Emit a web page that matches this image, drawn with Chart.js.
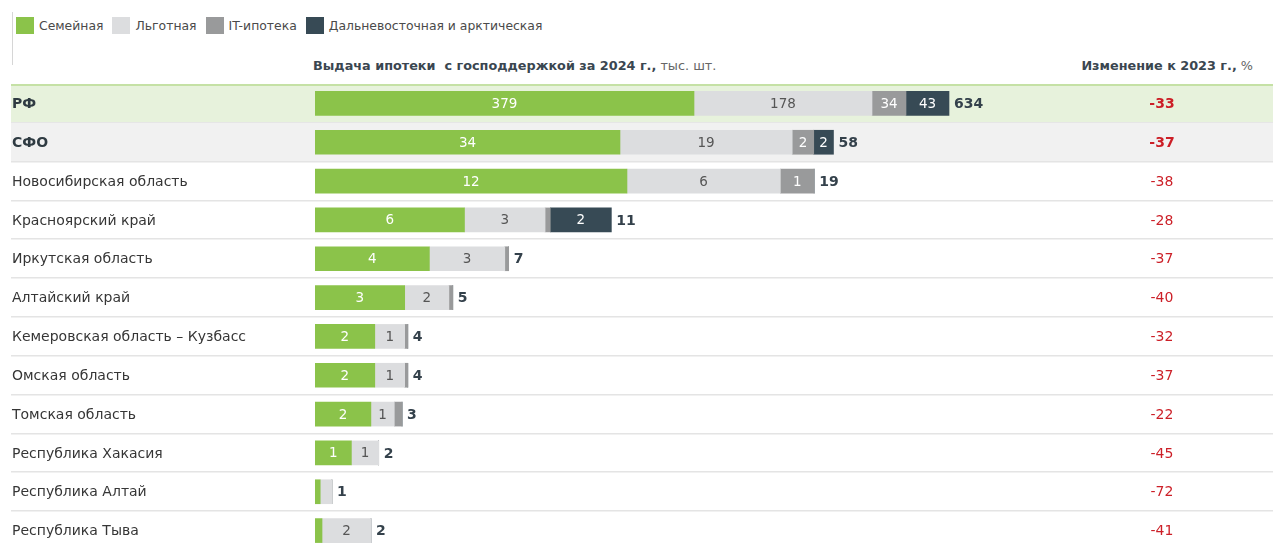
<!DOCTYPE html>
<html lang="ru">
<head>
<meta charset="utf-8">
<script src="https://cdn.jsdelivr.net/npm/chart.js@4.4.1/dist/chart.umd.min.js"></script>
<style>
  html,body{margin:0;padding:0;background:#fff;overflow:hidden;width:1273px;height:543px;}
  body{font-family:"DejaVu Sans",Verdana,sans-serif;position:relative;}
  #legend{position:absolute;left:12px;top:12px;height:53px;border-left:1px solid #d6d6d6;}
  #legend span.it{display:inline-flex;align-items:center;font-size:12.4px;color:#4a4a4a;margin-right:6px;height:26px;}
  #legend i{display:inline-block;width:18px;height:17px;margin:0 5px 0 3px;}
  .hdr{position:absolute;top:58px;font-size:12.8px;color:#3a4650;font-weight:bold;white-space:nowrap;}
  .hdr span{font-weight:normal;color:#666;}
  #wrap{position:absolute;left:0;top:84px;width:1273px;height:466px;}
</style>
</head>
<body>
<div id="legend"></div>
<div class="hdr" style="left:313px">Выдача ипотеки&nbsp; с господдержкой за 2024 г.,<span> тыс. шт.</span></div>
<div class="hdr" style="right:20px">Изменение к 2023 г.,<span> %</span></div>
<div id="wrap"><canvas id="chart"></canvas></div>
<script>
const regions = ["РФ","СФО","Новосибирская область","Красноярский край","Иркутская область","Алтайский край","Кемеровская область – Кузбасс","Омская область","Томская область","Республика Хакасия","Республика Алтай","Республика Тыва"];
// which scale each row belongs to (РФ, СФО and regions are drawn at different scales)
const rowGroup = ["rf","sfo","reg","reg","reg","reg","reg","reg","reg","reg","reg","reg"];
const seriesNames = ["Семейная","Льготная","IT-ипотека","Дальневосточная и арктическая"];
const family       = [379, 34.0, 12.0, 5.75, 4.4, 3.45, 2.3, 2.3, 2.15, 1.4, 0.2, 0.27];
const preferential = [178, 19.2, 5.9, 3.1, 2.9, 1.7, 1.15, 1.15, 0.9, 1.05, 0.45, 1.88];
const itMortgage   = [34, 2.4, 1.3, 0.2, 0.15, 0.15, 0.12, 0.12, 0.3, 0, 0, 0];
const farEast      = [43, 2.2, 0, 2.35, 0, 0, 0, 0, 0, 0, 0, 0];
const change2023   = [-33, -37, -38, -28, -37, -40, -32, -37, -22, -45, -72, -41];

const colors = ["#8bc34a","#dcdddf","#999a9b","#374a55"];
const labelColors = ["#ffffff","#555555","#ffffff","#ffffff"];
const allSeries = [family, preferential, itMortgage, farEast];
const groups = ["rf","sfo","reg"];
const FONT = '"DejaVu Sans", Verdana, sans-serif';

// legend
const lg = document.getElementById("legend");
seriesNames.forEach((n,i)=>{
  const s = document.createElement("span");
  s.className = "it";
  s.innerHTML = `<i style="background:${colors[i]}"></i>${n}`;
  lg.appendChild(s);
});

const datasets = [];
groups.forEach(g=>{
  allSeries.forEach((vals,si)=>{
    datasets.push({
      label: seriesNames[si],
      data: vals.map((v,i)=> rowGroup[i]===g ? v : null),
      backgroundColor: colors[si],
      xAxisID: "x_"+g,
      stack: "all",
      barThickness: 24,
      borderWidth: 0,
      _series: si,
      _group: g
    });
  });
});

const rowPlugin = {
  id: "rows",
  beforeDraw(chart){
    const ctx = chart.ctx, y = chart.scales.y;
    const W = chart.width;
    const step = y.height / regions.length;
    ctx.save();
    regions.forEach((r,i)=>{
      const top = y.top + i*step;
      if(i===0){ ctx.fillStyle="#e7f2dc"; ctx.fillRect(11, top, W-11, step); }
      if(i===1){ ctx.fillStyle="#f1f1f1"; ctx.fillRect(11, top, W-11, step); }
      ctx.fillStyle="#e4e4e4";
      ctx.fillRect(11, Math.round(top+step)-1, W-11, 1.5);
    });
    ctx.fillStyle="#c5e1a5";
    ctx.fillRect(11, y.top, W-11, 2);
    regions.forEach((r,i)=>{
      const cy = y.getPixelForValue(i);
      const bold = rowGroup[i] !== "reg";
      ctx.textBaseline="middle";
      ctx.textAlign="left";
      ctx.font = (bold?"bold 14px ":"14px ")+FONT;
      ctx.fillStyle = bold ? "#2f3b42" : "#363636";
      ctx.fillText(r, 12, cy+1);
      ctx.textAlign="center";
      ctx.font = (bold?"bold 14px ":"14px ")+FONT;
      ctx.fillStyle = "#cc1f27";
      ctx.fillText(String(change2023[i]), 1162, cy+1);
    });
    ctx.restore();
  },
  afterDatasetsDraw(chart){
    const ctx = chart.ctx;
    ctx.save();
    ctx.textBaseline="middle";
    const ends = regions.map(()=>0);
    chart.data.datasets.forEach((ds,di)=>{
      const meta = chart.getDatasetMeta(di);
      meta.data.forEach((el,i)=>{
        const v = ds.data[i];
        if(v===null || v===undefined) return;
        const p = el.getProps(["x","y","base"], true);
        const x0 = Math.min(p.x,p.base), x1 = Math.max(p.x,p.base);
        if(v>0) ends[i] = Math.max(ends[i], x1);
        if(Math.round(v)>=1 && x1-x0>=18){
          ctx.font = "13.5px "+FONT;
          ctx.textAlign="center";
          ctx.fillStyle = labelColors[ds._series];
          ctx.fillText(String(Math.round(v)), (x0+x1)/2, p.y+1);
        }
      });
    });
    regions.forEach((r,i)=>{
      const total = allSeries.reduce((a,s)=>a+s[i],0);
      ctx.font = "bold 14px "+FONT;
      ctx.textAlign="left";
      ctx.fillStyle="#34414b";
      ctx.fillText(String(Math.round(total)), ends[i]+5, chart.scales.y.getPixelForValue(i)+1);
    });
    ctx.restore();
  }
};

new Chart(document.getElementById("chart"), {
  type: "bar",
  data: { labels: regions, datasets },
  options: {
    indexAxis: "y",
    responsive: true,
    maintainAspectRatio: false,
    animation: false,
    layout: { padding: { left: 315, right: 0, top: 0, bottom: 0 } },
    plugins: { legend: { display: false }, tooltip: { enabled: false } },
    scales: {
      y: { display: false, stacked: true, grid: { display: false } },
      x_rf:  { display: false, stacked: true, min: 0, max: 958 },
      x_sfo: { display: false, stacked: true, min: 0, max: 106.8 },
      x_reg: { display: false, stacked: true, min: 0, max: 36.85 }
    }
  },
  plugins: [rowPlugin]
});
</script>
</body>
</html>
